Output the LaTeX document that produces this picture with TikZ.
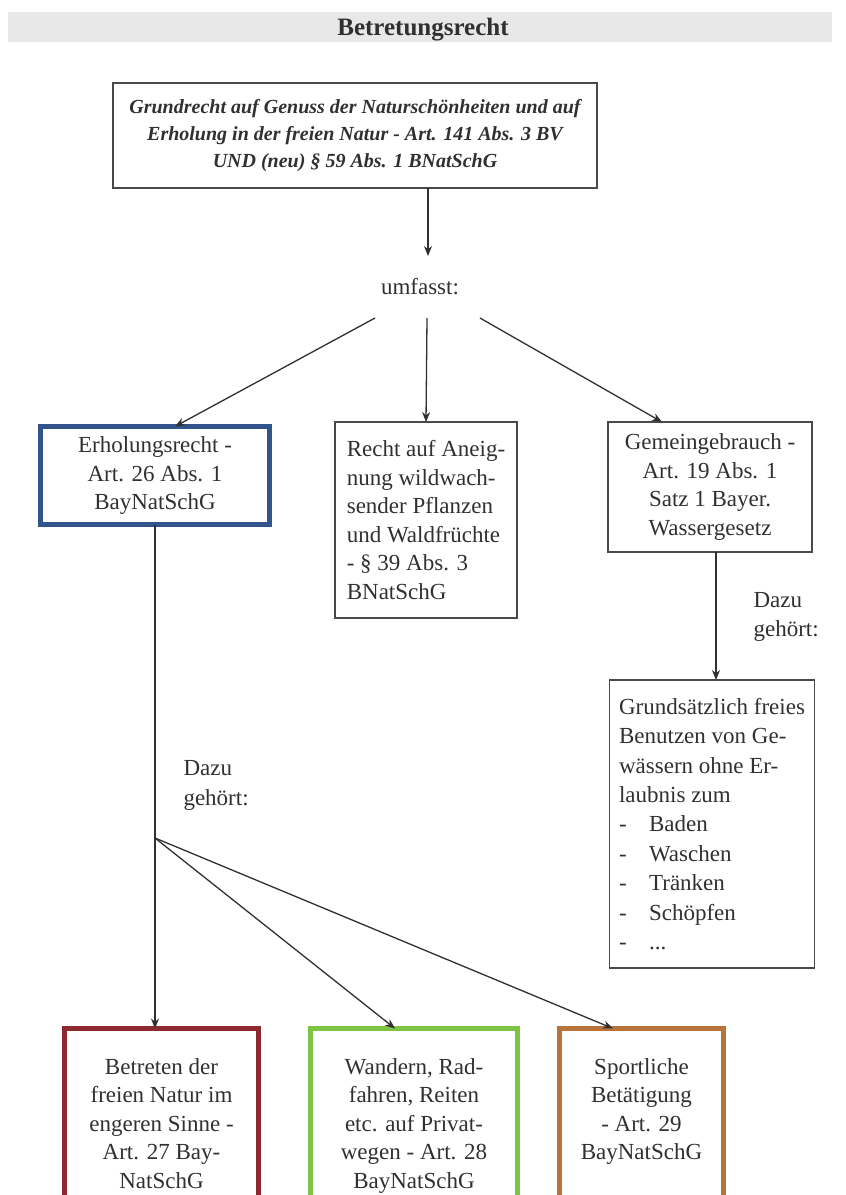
\documentclass[tikz,border=0pt]{standalone}
\usepackage{fontspec}
\setmainfont{Liberation Serif}
\usetikzlibrary{arrows.meta,calc}
\definecolor{ink}{HTML}{303030}
\definecolor{frame}{HTML}{4A4A4A}
\definecolor{myblue}{HTML}{32548C}
\definecolor{myred}{HTML}{8C2A30}
\definecolor{mygreen}{HTML}{7DC443}
\definecolor{myorange}{HTML}{B8733A}
\definecolor{titlegray}{HTML}{E8E8E8}
\begin{document}
\begin{tikzpicture}[x=1pt,y=-1pt,
  txt/.style={font=\fontsize{23}{28.5}\selectfont, text=ink},
  plainbox/.style={txt, draw=frame, line width=1.2pt, inner sep=0pt, outer sep=0pt},
  thickbox/.style={txt, line width=5pt, inner sep=0pt, outer sep=0pt, align=center},
  bottombox/.style={txt, line width=5pt, inner xsep=0pt, inner ysep=30pt, outer sep=0pt,
    align=center, anchor=north, text depth=170pt},
  arr/.style={draw=ink, line width=1.3pt, -{Stealth[length=10pt,width=8pt]}},
  ln/.style={draw=ink, line width=1.3pt},
]
\useasboundingbox (0,0) rectangle (846,1195);
\clip (0,0) rectangle (846,1195);

% title bar
\fill[titlegray] (8,12) rectangle (832,42);
\node[font=\bfseries\fontsize{25}{28}\selectfont, text=ink] (title) at (423,30) {Betretungsrecht};

% top box
\node[draw=frame, line width=1.2pt, minimum width=484, minimum height=105, inner sep=0pt, outer sep=0pt,
  align=center, font=\bfseries\itshape\fontsize{20}{27}\selectfont, text=ink] (top) at (355,135.5)
  {Grundrecht auf Genuss der Naturschönheiten und auf\\Erholung in der freien Natur - Art. 141 Abs. 3 BV\\UND (neu) § 59 Abs. 1 BNatSchG};

% umfasst
\node[txt, minimum height=62, inner sep=0pt, outer sep=0pt] (um) at (420,287) {umfasst:};

% second row
\node[thickbox, draw=myblue, minimum width=229, minimum height=98] (blue) at (155,475.5)
  {Erholungsrecht -\\Art. 26 Abs. 1\\BayNatSchG};
\node[plainbox, minimum width=182, minimum height=196, align=left] (mid) at (426,520)
  {Recht auf Aneig-\\nung wildwach-\\sender Pflanzen\\und Waldfrüchte\\- § 39 Abs. 3\\BNatSchG};
\node[plainbox, minimum width=204, minimum height=130, align=center] (gem) at (710,487)
  {Gemeingebrauch -\\Art. 19 Abs. 1\\Satz 1 Bayer.\\Wassergesetz};

% right column
\node[txt, anchor=west, align=left] (d2) at (750,617) {Dazu\\gehört:};
\node[plainbox, minimum width=205, minimum height=288, align=left,
  font=\fontsize{23}{29.4}\selectfont] (grund) at (712,824)
  {Grundsätzlich freies\\Benutzen von Ge-\\wässern ohne Er-\\laubnis zum\\
   \makebox[30pt][l]{-}Baden\\\makebox[30pt][l]{-}Waschen\\\makebox[30pt][l]{-}Tränken\\
   \makebox[30pt][l]{-}Schöpfen\\\makebox[30pt][l]{-}...};

% left column
\node[txt, anchor=west, align=left, font=\fontsize{23}{30}\selectfont] (d1) at (180,785) {Dazu\\gehört:};

% bottom row
\node[bottombox, draw=myred, minimum width=194] (red) at (161.5,1028.5)
  {Betreten der\\freien Natur im\\engeren Sinne -\\Art. 27 Bay-\\NatSchG};
\node[bottombox, draw=mygreen, minimum width=207] (green) at (414,1028.5)
  {Wandern, Rad-\\fahren, Reiten\\etc. auf Privat-\\wegen - Art. 28\\BayNatSchG};
\node[bottombox, draw=myorange, minimum width=164] (orange) at (641.5,1028.5)
  {Sportliche\\Betätigung\\- Art. 29\\BayNatSchG};

% connectors
\draw[arr] ($(top.south)+(73,0)$) -- ($(um.north)+(8,0)$);
\draw[arr] ($(um.south)+(-45,0)$) -- ($(blue.north)+(20,0)$);
\draw[arr] ($(um.south)+(7,0)$) -- (mid.north);
\draw[arr] ($(um.south)+(60,0)$) -- ($(gem.north)+(-48,0)$);
\draw[arr] ($(gem.south)+(6,0)$) -- ($(grund.north)+(4,0)$);

\coordinate (br) at ($(blue.south)+(0,313.5)$);
\draw[ln] (blue.south) -- (br);
\draw[arr] (br) -- (red.north -| br);
\draw[arr] (br) -- ($(green.north)+(-19,0)$);
\draw[arr] (br) -- ($(orange.north)+(-28.5,0)$);
\end{tikzpicture}
\end{document}
